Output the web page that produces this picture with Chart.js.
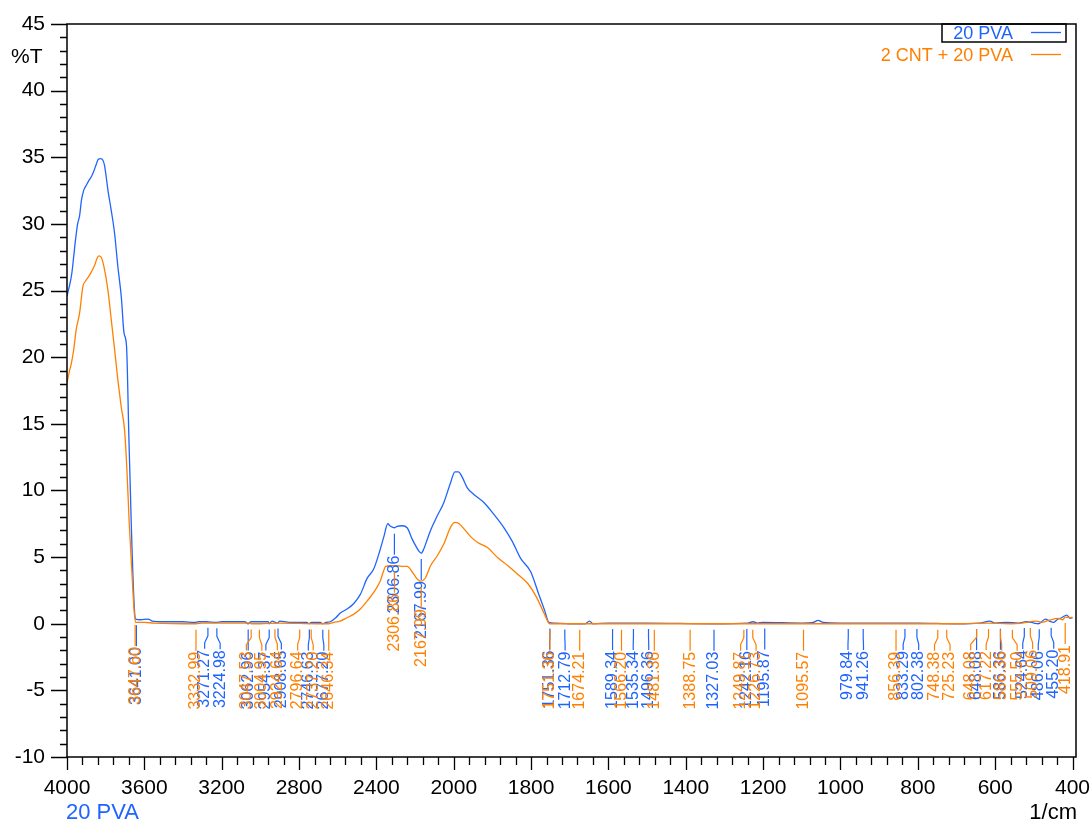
<!DOCTYPE html>
<html lang="en">
<head>
<meta charset="UTF-8">
<title>FTIR - 20 PVA</title>
<script src="https://cdn.jsdelivr.net/npm/chart.js"></script>
<style>
  html, body { margin: 0; padding: 0; background: #fff; }
  canvas { display: block; }
</style>
</head>
<body>
<canvas id="ftir" width="1092" height="820"></canvas>
<script>
// series names
const seriesNames = ['20 PVA', '2 CNT + 20 PVA'];

// 20 PVA (blue) - wavenumber / %T
const blueWn = [4000,3985,3975,3965,3956,3945,3935,3925,3914,3900,3885,3872,3860,3848,3838,3825,3815,3806,3797,3788,
  3771,3754,3737,3719,3705,3692,3680,3667,3654,3645,3620,3580,3560,3500,3400,3340,3320,3280,3230,3200,
  3080,3064,3048,2960,2954,2940,2912,2900,2850,2760,2748,2736,2690,2678,2660,2639,2610,2587,2552,2518,
  2483,2448,2414,2388,2362,2341,2330,2318,2306,2293,2267,2241,2215,2195,2180,2168,2155,2140,2120,2085,
  2051,2016,1997,1988,1978,1965,1948,1922,1896,1870,1849,1827,1801,1780,1765,1754,1740,1700,1660,1649,
  1640,1600,1500,1330,1240,1226,1215,1200,1100,1070,1058,1045,1000,980,900,800,700,640,614,600,
  571,540,519,500,488,470,460,449,440,428,415,406,400];
const blueT = [24.6,25.5,26.3,27.6,28.8,30.0,30.6,31.8,32.5,32.9,33.3,33.6,34.0,34.5,34.85,34.9,34.8,34.4,33.5,32.5,
  31.0,29.3,26.8,24.5,21.8,20.8,14.0,7.2,1.8,0.35,0.3,0.35,0.2,0.15,0.15,0.1,0.15,0.15,0.1,0.15,
  0.15,0.0,0.15,0.15,0.0,0.2,0.05,0.2,0.1,0.1,0.0,0.1,0.1,0.0,0.1,0.15,0.45,0.8,1.1,1.5,
  2.2,3.4,4.1,5.2,6.5,7.5,7.35,7.25,7.2,7.3,7.35,7.2,6.35,5.8,5.45,5.3,5.6,6.2,7.0,8.1,
  9.1,10.6,11.4,11.4,11.0,10.2,9.7,9.1,8.2,7.2,6.2,4.9,3.9,2.2,1.0,0.1,0.05,0.0,0.0,0.2,
  0.0,0.05,0.05,0.0,0.05,0.15,0.05,0.1,0.05,0.1,0.25,0.1,0.05,0.05,0.05,0.05,0.0,0.05,0.2,0.05,
  0.1,0.05,0.15,0.05,0.0,0.35,0.2,0.1,0.3,0.45,0.65,0.4,0.45];

// 2 CNT + 20 PVA (orange)
const orangeWn = [4000,3985,3978,3966,3952,3935,3918,3905,3890,3874,3857,3845,3835,3823,3809,3788,3771,3754,3737,3720,
  3702,3690,3678,3663,3652,3645,3600,3550,3333,3300,3050,3047,3005,2900,2700,2646,2620,2587,2552,2518,
  2483,2448,2414,2380,2362,2352,2326,2293,2260,2241,2206,2185,2168,2155,2146,2120,2085,2051,2016,1997,
  1986,1973,1955,1938,1912,1886,1860,1834,1808,1786,1765,1752,1600,1300,1000,700,617,560,530,494,
  480,462,436,425,419,406,400];
const orangeT = [18.1,19.1,19.5,20.5,22.1,23.3,25.3,25.7,26.0,26.4,26.9,27.4,27.6,27.5,26.8,25.0,22.8,20.6,18.3,16.3,
  14.5,11.5,7.5,3.5,0.8,0.1,0.1,0.05,0.0,0.05,0.05,0.0,0.0,0.05,0.0,0.0,0.1,0.2,0.45,0.7,
  1.1,1.7,2.35,3.2,4.0,4.3,4.35,4.35,4.3,4.3,3.7,3.3,3.2,3.3,3.45,4.35,5.1,6.0,7.25,7.6,
  7.5,7.1,6.5,6.1,5.7,4.95,4.35,3.7,3.0,2.0,0.7,0.0,0.0,0.0,0.0,0.0,0.05,0.0,0.05,0.2,
  0.1,0.25,0.4,0.3,0.5,0.45,0.5];

// peak picks
const bluePeaks = [3641.00,3271.27,3224.98,3062.96,2954.37,2908.65,2746.63,2677.20,2306.86,2167.99,
  1751.36,1712.79,1589.34,1535.34,1496.36,1327.03,1242.16,1195.87,979.84,941.26,833.29,802.38,
  648.08,586.36,524.64,486.06,455.20];
const orangePeaks = [3647.60,3332.99,3047.53,3004.95,2924.64,2796.64,2737.20,2646.34,2306.86,2167.99,
  1751.36,1674.21,1566.20,1481.36,1388.75,1249.87,1226.73,1095.57,856.39,748.38,725.23,
  648.08,617.22,586.36,555.50,509.06,418.91];

// axis ticks
const xTickLabels = [4000,3600,3200,2800,2400,2000,1800,1600,1400,1200,1000,800,600,400];
const yTickMin = -10, yTickMax = 45, yStep = 5;

const BLUE = '#1f64ff';
const ORANGE = '#ff8000';
const FONT = '"Liberation Sans", Arial, sans-serif';

// the x axis is compressed 2:1 above 2000 1/cm
function toU(wn) { return wn > 2000 ? 2000 + (wn - 2000) / 2 : wn; }
function fromU(u) { return u > 2000 ? 2000 + (u - 2000) * 2 : u; }

function interp(wns, ts, w) {
  for (let i = 1; i < wns.length; i++) {
    if (w <= wns[i - 1] && w >= wns[i]) {
      const f = (wns[i - 1] - w) / (wns[i - 1] - wns[i]);
      return ts[i - 1] + f * (ts[i] - ts[i - 1]);
    }
  }
  return ts[ts.length - 1];
}

function spread(px, gap) {
  const pos = px.slice();
  for (let it = 0; it < 300; it++) {
    let moved = false;
    for (let i = 1; i < pos.length; i++) {
      const d = pos[i] - pos[i - 1];
      if (d < gap - 0.01) {
        const m = (gap - d) / 2;
        pos[i - 1] -= m; pos[i] += m;
        moved = true;
      }
    }
    if (!moved) break;
  }
  return pos;
}

// keep tick labels from pushing the plot area around
function noOverflow(s) {
  s.paddingLeft = 0; s.paddingRight = 0; s.paddingTop = 0; s.paddingBottom = 0;
}

const framePlugin = {
  id: 'frame',
  afterDraw(chart) {
    const ctx = chart.ctx, a = chart.chartArea;
    const xs = chart.scales.x, ys = chart.scales.y;
    ctx.save();
    ctx.strokeStyle = '#000';
    ctx.lineWidth = 1.5;
    ctx.strokeRect(a.left, a.top, a.right - a.left, a.bottom - a.top);
    ctx.lineWidth = 1.3;
    ctx.beginPath();
    for (let v = yTickMin; v <= yTickMax; v += 1) {
      const y = Math.round(ys.getPixelForValue(v)) + 0.5;
      const len = v % yStep === 0 ? 16 : 7;
      ctx.moveTo(a.left - len, y); ctx.lineTo(a.left, y);
    }
    const uTicks = xTickLabels.map(toU);
    const uMin = Math.min(...uTicks), uMax = Math.max(...uTicks);
    for (let u = uMin; u <= uMax; u += 40) {
      const x = Math.round(xs.getPixelForValue(u)) + 0.5;
      const len = uTicks.includes(u) ? 13 : 8;
      ctx.moveTo(x, a.bottom); ctx.lineTo(x, a.bottom + len);
    }
    ctx.stroke();

    // axis captions
    ctx.fillStyle = '#000';
    ctx.font = '21px ' + FONT;
    ctx.textBaseline = 'middle';
    ctx.textAlign = 'left';
    ctx.fillText('%T', 11, 57);
    ctx.font = '22px ' + FONT;
    ctx.textAlign = 'right';
    ctx.fillText('1/cm', 1077, 813);
    ctx.fillStyle = BLUE;
    ctx.textAlign = 'left';
    ctx.fillText(seriesNames[0], 66, 813);

    // legend
    ctx.strokeStyle = '#000';
    ctx.lineWidth = 1.5;
    ctx.strokeRect(942, a.top, 124, 18);
    ctx.font = '18px ' + FONT;
    ctx.textAlign = 'right';
    const colors = [BLUE, ORANGE];
    seriesNames.forEach((name, i) => {
      const y = a.top + 10 + i * 22;
      ctx.fillStyle = colors[i];
      ctx.fillText(name, 1013, y);
      ctx.strokeStyle = colors[i];
      ctx.lineWidth = 1.3;
      ctx.beginPath();
      ctx.moveTo(1031, y - 1.5); ctx.lineTo(1061, y - 1.5);
      ctx.stroke();
    });
    ctx.restore();
  }
};

const peakPlugin = {
  id: 'peaks',
  afterDatasetsDraw(chart) {
    const ctx = chart.ctx;
    const xs = chart.scales.x, ys = chart.scales.y;
    const sets = [
      { peaks: bluePeaks, wn: blueWn, t: blueT, color: BLUE },
      { peaks: orangePeaks, wn: orangeWn, t: orangeT, color: ORANGE }
    ];
    ctx.save();
    ctx.font = '16px ' + FONT;
    ctx.lineWidth = 1.2;
    sets.forEach(s => {
      const px = s.peaks.map(w => xs.getPixelForValue(toU(w)));
      const lx = spread(px, 15.5);
      ctx.strokeStyle = s.color;
      ctx.fillStyle = s.color;
      s.peaks.forEach((w, i) => {
        const cy = ys.getPixelForValue(interp(s.wn, s.t, w));
        ctx.beginPath();
        ctx.moveTo(px[i], cy + 6);
        ctx.lineTo(px[i], cy + 14);
        ctx.lineTo(lx[i], cy + 21);
        ctx.lineTo(lx[i], cy + 27);
        ctx.stroke();
        ctx.save();
        ctx.translate(lx[i], cy + 28);
        ctx.rotate(-Math.PI / 2);
        ctx.textAlign = 'right';
        ctx.textBaseline = 'middle';
        ctx.fillText(w.toFixed(2), 0, 0);
        ctx.restore();
      });
    });
    ctx.restore();
  }
};

new Chart(document.getElementById('ftir'), {
  type: 'line',
  data: {
    datasets: [
      {
        label: seriesNames[0],
        data: blueWn.map((w, i) => ({ x: toU(w), y: blueT[i] })),
        borderColor: BLUE, borderWidth: 1.3, pointRadius: 0,
        cubicInterpolationMode: 'monotone', order: 1
      },
      {
        label: seriesNames[1],
        data: orangeWn.map((w, i) => ({ x: toU(w), y: orangeT[i] })),
        borderColor: ORANGE, borderWidth: 1.3, pointRadius: 0,
        cubicInterpolationMode: 'monotone', order: 0
      }
    ]
  },
  options: {
    responsive: false,
    animation: false,
    layout: { padding: { top: 24, right: 16, left: 0, bottom: 0 } },
    plugins: { legend: { display: false }, tooltip: { enabled: false } },
    scales: {
      x: {
        type: 'linear', reverse: true, min: 391, max: 3000,
        afterBuildTicks: s => { s.ticks = xTickLabels.map(v => ({ value: toU(v) })); },
        afterFit: s => { s.height = 63; noOverflow(s); },
        grid: { display: false, drawTicks: false },
        border: { display: false },
        ticks: {
          font: { family: FONT, size: 21 }, color: '#000', padding: 19,
          maxRotation: 0, autoSkip: false,
          callback: v => String(fromU(v))
        }
      },
      y: {
        min: yTickMin, max: yTickMax,
        afterFit: s => { s.width = 67; noOverflow(s); },
        grid: { display: false, drawTicks: false },
        border: { display: false },
        ticks: { stepSize: yStep, font: { family: FONT, size: 21 }, color: '#000', padding: 22 }
      }
    }
  },
  plugins: [peakPlugin, framePlugin]
});
</script>
</body>
</html>
